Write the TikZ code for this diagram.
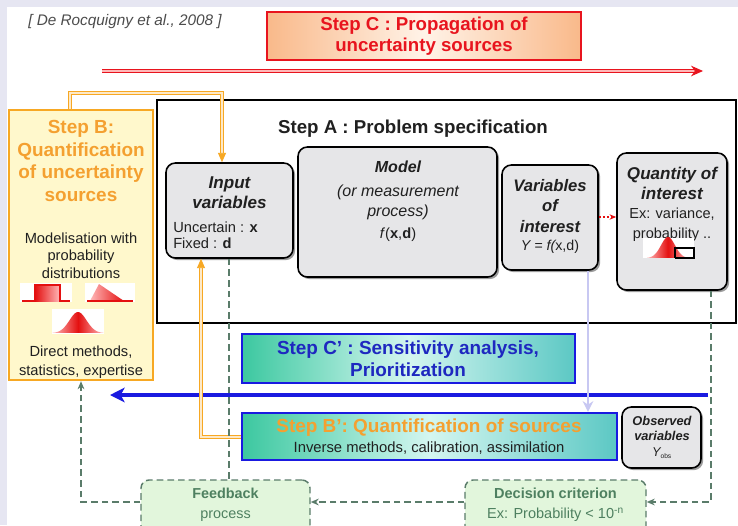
\documentclass[tikz,border=0pt]{standalone}
\usepackage{fontspec}
\setmainfont{Liberation Sans}
\usetikzlibrary{arrows.meta,shadows,fit}
\definecolor{pagebg}{HTML}{E6E6F2}
\definecolor{stepred}{HTML}{E8141E}
\definecolor{peach}{HTML}{F9B98A}
\definecolor{peachlight}{HTML}{FFF3E8}
\definecolor{stepyellow}{HTML}{FFF8CC}
\definecolor{steporange}{HTML}{F7A823}
\definecolor{orangetext}{HTML}{F4A030}
\definecolor{boxgray}{HTML}{E6E6E8}
\definecolor{stepblue}{HTML}{1A1AE0}
\definecolor{bluetext}{HTML}{1E28C0}
\definecolor{tealdark}{HTML}{3CC8A0}
\definecolor{tealright}{HTML}{5CC8C4}
\definecolor{teallight}{HTML}{D4F6F0}
\definecolor{lavline}{HTML}{C8C8F2}
\definecolor{dashgreen}{HTML}{5A7C6A}
\definecolor{mintfill}{HTML}{E2F6DC}
\definecolor{minttext}{HTML}{4E8060}
\definecolor{ink}{HTML}{202020}
\definecolor{distred}{HTML}{E41010}
\definecolor{distpink}{HTML}{FFB8B8}

\tikzset{
  grayvar/.style={draw=black, line width=1.2pt, fill=boxgray, rounded corners=7pt, inner sep=0pt,
    drop shadow={shadow xshift=1.6pt, shadow yshift=-1.6pt, fill=black!55, opacity=0.7}},
  tealstep/.style={draw=stepblue, line width=1.8pt, left color=tealdark, right color=tealright,
    middle color=teallight, inner sep=0pt},
  mintbox/.style={draw=dashgreen, line width=1.1pt, dash pattern=on 5pt off 3pt, fill=mintfill,
    rounded corners=6pt, inner sep=0pt},
  dashlink/.style={draw=dashgreen, line width=1.1pt, dash pattern=on 5pt off 3pt},
  orangelink/.style={draw=steporange, line width=0.6pt, double=steporange!25, double distance=1.2pt},
  lbl/.style={inner sep=0pt, align=center, text=ink},
  bellred/.style={left color=distpink, right color=distpink, middle color=distred},
}

\begin{document}
\begin{tikzpicture}[x=0.75pt,y=-0.75pt]
\useasboundingbox (0,0) rectangle (738,525);
\fill[pagebg] (0,0) rectangle (738,525);
\fill[white] (7,7) rectangle (738,525);

% reference line
\node[lbl, text=black!70, font=\itshape\fontsize{11.5}{13}\selectfont] (cite) at (125,22)
  {[ De Rocquigny et al., 2008 ]};

% Step C: propagation
\node[draw=stepred, line width=1.8pt, left color=peach, right color=peach, middle color=peachlight,
  inner sep=0pt, fit={(267,12)(581,60)}] (stepC) {};
\node[lbl, text=stepred, font=\bfseries\fontsize{14}{15.75}\selectfont] (stepCtxt) at (424,36.5)
  {Step C : Propagation of\\uncertainty sources};
\coordinate (propL) at (102,71);
\coordinate (propR) at (703,71);
\draw[draw=stepred, line width=0.8pt, double=distpink, double distance=1.6pt,
  -{Stealth[length=9pt,width=8pt]}] (propL) -- (propR);

% Step A frame
\node[draw=black, line width=1.3pt, inner sep=0pt, fit={(157,100)(736,323)}] (stepA) {};
\node[lbl, font=\bfseries\fontsize{14}{16}\selectfont] (stepAtxt) at (413,129)
  {Step A : Problem specification};

% Step B: quantification of sources
\node[draw=steporange, line width=1.8pt, fill=stepyellow, inner sep=0pt, fit={(9,110)(153,380)}] (stepB) {};
\node[lbl, text=orangetext, font=\bfseries\fontsize{14.2}{17}\selectfont] (stepBtxt) at (81,161)
  {Step B:\\Quantification\\of uncertainty\\sources};
\node[lbl, font=\fontsize{11}{13}\selectfont] (modtxt) at (81,255.5)
  {Modelisation with\\probability\\distributions};
\node[lbl, font=\fontsize{11}{14.2}\selectfont] (dirtxt) at (81,362.5)
  {Direct methods,\\statistics, expertise};

% small distribution sketches
\fill[white] (20,283) rectangle (72,302);
\shade[left color=distred, right color=distpink] (35,285) rectangle (60,301);
\draw[distred, line width=0.8pt] (22,301) -- (35,301) -- (35,285) -- (60,285) -- (60,301) -- (70,301);
\fill[white] (85,283) rectangle (135,302);
\shade[left color=distpink, right color=distred] (90,301) -- (99,284) -- (124,301) -- cycle;
\draw[distred, line width=0.8pt] (87,301) -- (133,301);
\fill[white] (52,309) rectangle (104,334);
\shade[bellred] plot[domain=-3:3, samples=40, smooth] ({78+\x*8.5}, {333-21*exp(-\x*\x/2)}) -- cycle;

% problem specification boxes
\node[grayvar, fit={(166,163)(293,258)}] (inputs) {};
\node[lbl, font=\bfseries\itshape\fontsize{12.8}{15}\selectfont] (inputsT) at (229.5,193)
  {Input\\variables};
\node[lbl, align=left, anchor=west, font=\fontsize{11}{12}\selectfont] (inputsD) at (173,235)
  {Uncertain : \textbf{x}\\Fixed : \textbf{d}};

\node[grayvar, fit={(298,147)(497,277)}] (model) {};
\node[lbl, font=\bfseries\itshape\fontsize{12}{13}\selectfont] (modelT) at (398,167) {Model};
\node[lbl, font=\itshape\fontsize{12}{15}\selectfont] (modelD) at (398,202)
  {(or measurement\\process)};
\node[lbl, font=\fontsize{11}{12}\selectfont] (modelF) at (398,235) {\textit{f}(\textbf{x},\textbf{d})};

\node[grayvar, fit={(502,165)(598,270)}] (voi) {};
\node[lbl, font=\bfseries\itshape\fontsize{12.5}{15.5}\selectfont] (voiT) at (550,206)
  {Variables\\of\\interest};
\node[lbl, font=\itshape\fontsize{10.7}{12}\selectfont] (voiF) at (550,247) {Y = f(\upshape x,d)};

\node[grayvar, fit={(617,153)(727,290)}] (qoi) {};
\node[lbl, font=\bfseries\itshape\fontsize{12.8}{15}\selectfont] (qoiT) at (672,183)
  {Quantity of\\interest};
\node[lbl, font=\fontsize{10.9}{15}\selectfont] (qoiD) at (672,225)
  {Ex: variance,\\probability ..};
\fill[white] (643,238) rectangle (694,258);
\shade[bellred] plot[domain=-3:3, samples=40, smooth] ({668+\x*7}, {258-21*exp(-\x*\x/2)}) -- cycle;
\draw[black, line width=0.8pt] (675,258) -- (675,248) -- (694,248) -- (694,258) -- (675,258);

\draw[distred, line width=0.8pt, dash pattern=on 2pt off 1pt, -{Stealth[length=5pt,width=4pt]}]
  (voi.east |- 0,217) -- (qoi.west |- 0,217);

% Step C' and Step B'
\node[tealstep, fit={(242,334)(575,383)}] (stepCp) {};
\node[lbl, text=bluetext, font=\bfseries\fontsize{14.2}{16.5}\selectfont] (stepCpT) at (408,359)
  {Step C' : Sensitivity analysis,\\Prioritization};
\coordinate (backR) at (708,395);
\coordinate (backL) at (110,395);
\draw[stepblue, line width=3pt, -{Stealth[length=11pt,width=11pt,inset=3pt]}] (backR) -- (backL);

\node[tealstep, fit={(242,413)(617,460)}] (stepBp) {};
\node[lbl, text=orangetext, font=\bfseries\fontsize{14.2}{14}\selectfont] (stepBpT) at (429,428)
  {Step B': Quantification of sources};
\node[lbl, font=\fontsize{11.1}{12}\selectfont] (stepBpD) at (429,448)
  {Inverse methods, calibration, assimilation};

\node[grayvar, fit={(622,407)(701,468)}] (obs) {};
\node[lbl, font=\bfseries\itshape\fontsize{9.6}{11.6}\selectfont] (obsT) at (662,437)
  {Observed\\variables\\\mdseries Y\textsubscript{\upshape\tiny obs}};

% feedback loop boxes
\node[mintbox, fit={(141,480)(310,535)}] (feedback) {};
\node[lbl, text=minttext, font=\bfseries\fontsize{10.8}{15}\selectfont] (feedbackT) at (225.5,505)
  {Feedback\\\mdseries process};
\node[mintbox, fit={(465,480)(646,535)}] (decision) {};
\node[lbl, text=minttext, font=\fontsize{10.9}{15}\selectfont] (decisionT) at (555.5,505)
  {\textbf{Decision criterion}\\Ex: Probability < 10\textsuperscript{-n}};

% orange links
\coordinate (oTop1) at (70,93);
\coordinate (oTop2) at (222,93);
\draw[orangelink, -{Triangle[length=7pt,width=6pt]}] (stepB.north -| oTop1) -- (oTop1) -- (oTop2) -- (inputs.north -| oTop2);
\coordinate (oBot) at (201,437);
\draw[orangelink, -{Triangle[length=7pt,width=6pt]}] (stepBp.west |- oBot) -- (oBot) -- (inputs.south -| oBot);

% lavender link
\draw[lavline, line width=1.6pt, -{Stealth[length=8pt,width=8pt]}] (voi.south -| 588,0) -- (stepBp.north -| 588,0);

% dashed feedback links
\coordinate (fbL) at (81,502);
\coordinate (qoiB) at (711,502);
\draw[dashlink] (inputs.south -| 229,0) -- (feedback.north -| 229,0);
\draw[dashlink, -{Stealth[length=6pt,width=5pt]}] (feedback.west |- fbL) -- (fbL) -- (stepB.south -| fbL);
\draw[dashlink, -{Stealth[length=6pt,width=5pt]}] (decision.west |- 0,502) -- (feedback.east |- 0,502);
\draw[dashlink, -{Stealth[length=6pt,width=5pt]}] (qoi.south -| qoiB) -- (qoiB) -- (decision.east |- qoiB);
\end{tikzpicture}
\end{document}
